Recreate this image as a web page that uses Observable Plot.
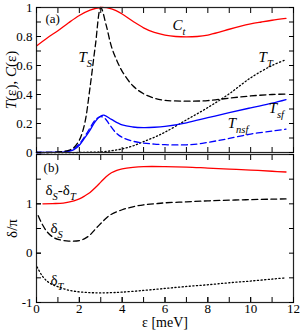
<!DOCTYPE html>
<html><head><meta charset="utf-8">
<script src="https://cdn.jsdelivr.net/npm/d3@7"></script>
<script src="https://cdn.jsdelivr.net/npm/@observablehq/plot@0.6"></script>
<style>
body{margin:0;background:#fff;}
#chart{width:300px;height:330px;overflow:hidden;background:#fff;}
#chart svg{display:block;}
</style></head><body><div id="chart"></div>
<script>
// ---------- panel (a) data ----------
const eps_Ct = [0,0.5,1,1.5,2,2.5,3,3.5,4,4.5,5,5.5,6,6.5,7,7.5,8,8.5,9,9.5,10,10.5,11,11.65];
const Ct     = [0.735,0.79,0.84,0.895,0.945,0.982,1.0,0.99,0.955,0.905,0.86,0.828,0.81,0.80,0.797,0.80,0.81,0.828,0.85,0.87,0.887,0.90,0.912,0.925];

const eps_TS = [0,0.5,1,1.5,1.75,2,2.25,2.5,2.75,3,3.25,3.5,3.75,4,4.5,5,5.5,6,7,8,9,10,11,11.65];
const TS     = [0,0,0.003,0.015,0.035,0.085,0.2,0.45,0.74,1.0,0.88,0.73,0.635,0.56,0.46,0.405,0.375,0.36,0.354,0.358,0.375,0.39,0.40,0.403];

const eps_Tsf = [0,1,1.5,1.75,2,2.25,2.5,2.75,3,3.15,3.5,4,4.5,5,5.5,6,7,8,9,10,11,11.65];
const Tsf     = [0,0.002,0.008,0.02,0.05,0.1,0.155,0.215,0.252,0.258,0.228,0.19,0.176,0.172,0.174,0.18,0.205,0.24,0.275,0.308,0.34,0.365];

const eps_Tnsf = [0,1,1.5,1.75,2,2.25,2.5,2.75,3,3.2,3.4,3.7,4,4.5,5,5.5,6,6.5,7,7.5,8,8.5,9,10,11,11.65];
const Tnsf     = [0,0.003,0.012,0.028,0.06,0.11,0.17,0.225,0.248,0.235,0.195,0.138,0.105,0.078,0.065,0.058,0.054,0.052,0.053,0.058,0.07,0.083,0.097,0.127,0.148,0.161];

const eps_TT = [0,2,2.5,3,3.5,4,4.5,5,5.5,6,7,8,9,10,11,11.65];
const TT     = [0,0,0.002,0.004,0.012,0.025,0.045,0.075,0.105,0.14,0.225,0.31,0.405,0.515,0.60,0.64];

// ---------- panel (b) data ----------
const eps_dSdT = [0.3,0.75,1.25,1.75,2,2.25,2.5,2.75,3,3.25,3.5,3.75,4,4.5,5,6,7,8,9,10,11,11.65];
const dSdT     = [1.0,1.005,1.015,1.06,1.1,1.16,1.23,1.33,1.44,1.55,1.63,1.68,1.71,1.74,1.755,1.755,1.745,1.725,1.705,1.685,1.66,1.645];

const eps_dS = [0.08,0.25,0.5,0.75,1,1.5,2,2.25,2.5,2.75,3,3.25,3.5,4,4.5,5,5.5,6,7,8,9,10,11,11.65];
const dS     = [0.76,0.6,0.43,0.33,0.28,0.245,0.255,0.295,0.37,0.49,0.6,0.71,0.79,0.88,0.94,0.98,1.0,1.02,1.04,1.06,1.075,1.085,1.095,1.10];

const eps_dT = [0.03,0.25,0.5,0.75,1,1.5,2,2.5,3,3.5,4,5,6,7,8,9,10,11,11.65];
const dT     = [-0.28,-0.45,-0.57,-0.64,-0.68,-0.75,-0.785,-0.8,-0.805,-0.8,-0.79,-0.755,-0.715,-0.675,-0.64,-0.6,-0.565,-0.525,-0.5];

// ---------- ticks & labels ----------
const xTicks = [0,1,2,3,4,5,6,7,8,9,10,11,12];
const xTickLabels = [0,2,4,6,8,10,12];
const yTicksA = [0,0.2,0.4,0.6,0.8,1];
const yMinorA = [0,0.1,0.2,0.3,0.4,0.5,0.6,0.7,0.8,0.9,1];
const yTicksB = [-1,0,1];
const yMinorB = [-1,-0.5,0,0.5,1,1.5,2];
const yLabelA = "T(ε), C(ε)";
const yLabelB = "δ/π";
const xLabel = "ε [meV]";
const panelA = [{x:0.42, y:0.925, text:"(a)"}];
const panelB = [{x:0.33, y:1.73, text:"(b)"}];
const notesA = [
  {x:6.35, y:0.881, text:"C_t"},
  {x:1.96, y:0.66,  text:"T_S"},
  {x:10.37,y:0.66,  text:"T_T"},
  {x:10.84,y:0.306, text:"T_sf"},
  {x:8.93, y:0.204, text:"T_nsf"}
];
const notesB = [
  {x:0.42, y:1.27,  text:"δ_S-δ_T"},
  {x:0.65, y:0.5,   text:"δ_S"},
  {x:0.65, y:-0.555,text:"δ_T"}
];

const rows = (xs, ys) => xs.map((x, i) => ({x, y: ys[i]}));
const RED = "#ff0000", BLUE = "#0000ff";
const DASH = "6,3.5", DOT = "1.2,2.4";
const style = {fontFamily: "'Liberation Serif', serif", fontSize: "13px", color: "black", background: "white", overflow: "visible"};
const none = () => null;
const fmt = d => String(d);

function frameAxes(yMajor, yMinor, withXLabels) {
  const m = [
    Plot.frame({stroke: "#222", strokeWidth: 1.2}),
    Plot.axisY(yMajor, {anchor: "left", tickSize: -5, tickPadding: 9, tickFormat: fmt, label: null}),
    Plot.axisY(yMinor, {anchor: "left", tickSize: -5, tickFormat: none, label: null}),
    Plot.axisY(yMinor, {anchor: "right", tickSize: -5, tickFormat: none, label: null}),
    Plot.axisX(xTicks, {anchor: "top", tickSize: -5, tickFormat: none, label: null}),
    Plot.axisX(xTicks, {anchor: "bottom", tickSize: -5, tickFormat: none, label: null})
  ];
  if (withXLabels) m.push(Plot.axisX(xTickLabels, {anchor: "bottom", tickSize: -5, tickPadding: 6, tickFormat: fmt, label: null}));
  return m;
}

const lineOpts = {x: "x", y: "y", curve: "catmull-rom", strokeWidth: 1.3};

const plotA = Plot.plot({
  width: 300, height: 153, marginLeft: 36, marginRight: 7, marginTop: 7, marginBottom: 1,
  style,
  x: {domain: [0, 12]},
  y: {domain: [0, 1]},
  marks: [
    Plot.line(rows(eps_TT, TT), {...lineOpts, stroke: "black", strokeDasharray: DOT}),
    Plot.line(rows(eps_Tnsf, Tnsf), {...lineOpts, stroke: BLUE, strokeDasharray: DASH}),
    Plot.line(rows(eps_Tsf, Tsf), {...lineOpts, stroke: BLUE}),
    Plot.line(rows(eps_TS, TS), {...lineOpts, stroke: "black", strokeDasharray: DASH}),
    Plot.line(rows(eps_Ct, Ct), {...lineOpts, stroke: RED}),
    ...frameAxes(yTicksA, yMinorA, false),
    Plot.text(panelA, {x: "x", y: "y", text: "text", textAnchor: "start", lineAnchor: "middle", fontSize: 13}),
    Plot.text(notesA, {x: "x", y: "y", text: "text", textAnchor: "start", lineAnchor: "middle", fontSize: 15}),
    Plot.text([yLabelA], {frameAnchor: "left", rotate: -90, dx: -25, textAnchor: "middle", lineAnchor: "middle", fontSize: 15})
  ]
});

const plotB = Plot.plot({
  width: 300, height: 177, marginLeft: 36, marginRight: 7, marginTop: 1, marginBottom: 28,
  style,
  x: {domain: [0, 12]},
  y: {domain: [-1, 2]},
  marks: [
    Plot.line(rows(eps_dT, dT), {...lineOpts, stroke: "black", strokeDasharray: DOT}),
    Plot.line(rows(eps_dS, dS), {...lineOpts, stroke: "black", strokeDasharray: DASH}),
    Plot.line(rows(eps_dSdT, dSdT), {...lineOpts, stroke: RED}),
    ...frameAxes(yTicksB, yMinorB, true),
    Plot.text(panelB, {x: "x", y: "y", text: "text", textAnchor: "start", lineAnchor: "middle", fontSize: 13}),
    Plot.text(notesB, {x: "x", y: "y", text: "text", textAnchor: "start", lineAnchor: "middle", fontSize: 15}),
    Plot.text([yLabelB], {frameAnchor: "left", rotate: -90, dx: -24, textAnchor: "middle", lineAnchor: "middle", fontSize: 15}),
    Plot.text([xLabel], {frameAnchor: "bottom", dy: 20, textAnchor: "middle", lineAnchor: "middle", fontSize: 14})
  ]
});

// rich text: Latin letters italic, "_xyz" as italic subscript
const rich = new Set([...notesA, ...notesB].map(d => d.text).concat([yLabelA]));
function tokenize(s) {
  const out = [];
  for (let i = 0; i < s.length; i++) {
    const c = s[i];
    if (c === "_") {
      let j = i + 1, t = "";
      while (j < s.length && /[A-Za-z]/.test(s[j])) t += s[j++];
      out.push({t, sub: true, it: true});
      i = j - 1;
    } else {
      const it = /[A-Za-z]/.test(c);
      const last = out[out.length - 1];
      if (last && !last.sub && last.it === it) last.t += c;
      else out.push({t: c, sub: false, it});
    }
  }
  return out;
}
function richify(svg) {
  d3.select(svg).selectAll("text").each(function () {
    const s = this.textContent;
    if (!rich.has(s)) return;
    const el = d3.select(this);
    el.text(null);
    let down = false;
    for (const p of tokenize(s)) {
      const ts = el.append("tspan").text(p.t);
      if (p.it) ts.attr("font-style", "italic");
      if (p.sub) {
        ts.attr("font-size", "10.5px");
        if (!down) { ts.attr("dy", "5"); down = true; }
      } else if (down) { ts.attr("dy", "-5"); down = false; }
    }
  });
}
richify(plotA); richify(plotB);

const root = document.getElementById("chart");
root.append(plotA, plotB);
</script></body></html>
